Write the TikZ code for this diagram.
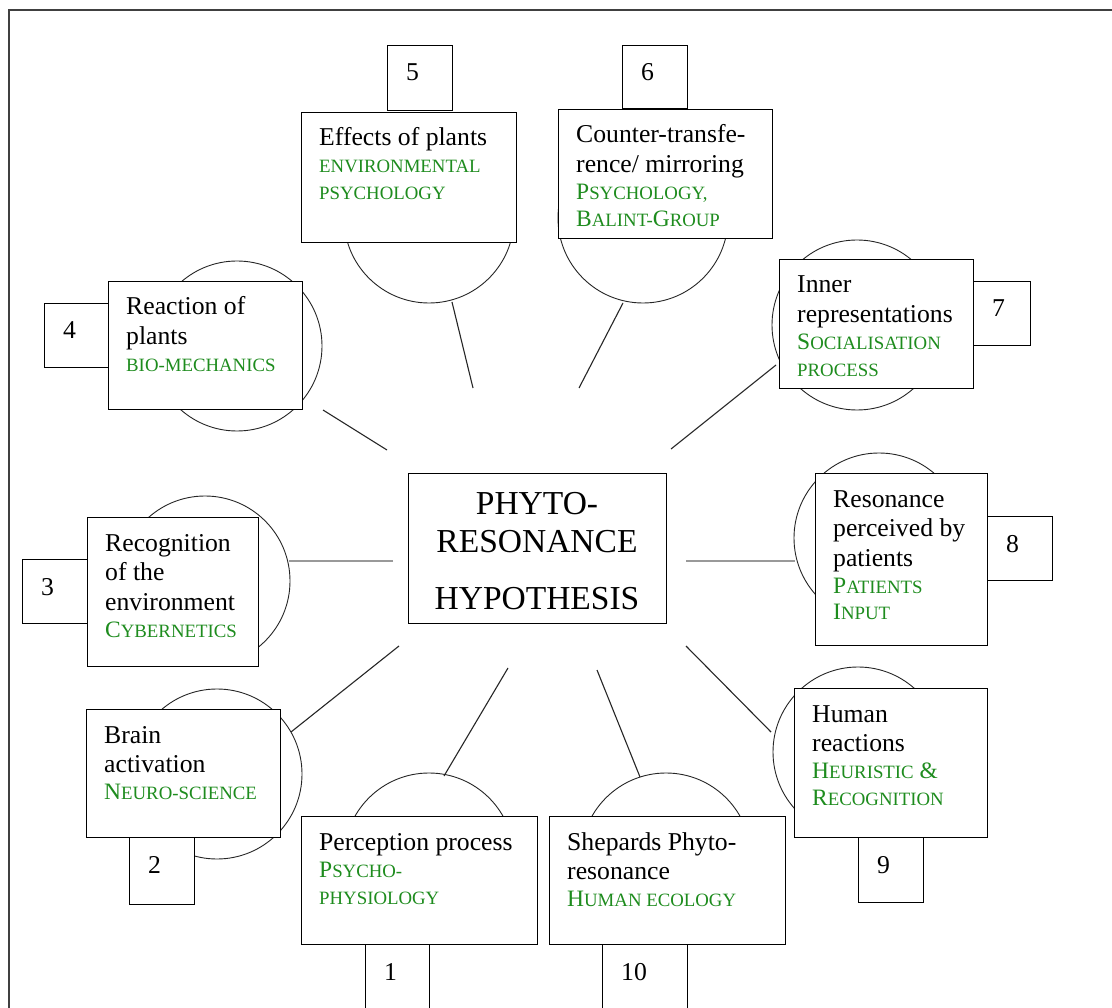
\documentclass[tikz,border=0pt]{standalone}
\usepackage{fontspec}
\setmainfont{Liberation Serif}
\usetikzlibrary{calc}
\definecolor{sgreen}{RGB}{30,140,30}
\newcommand\blk{\fontsize{25.7}{29.5}\selectfont}
\newcommand\grn{\leavevmode\color{sgreen}\fontsize{23.5}{27}\selectfont}
\newcommand\sm[1]{{\fontsize{18.8}{27}\selectfont #1}}
\newcommand\boxtxt[1]{\parbox[t]{300pt}{\raggedright #1}}
\tikzset{
 boxst/.style={draw=black, line width=1.3pt, fill=white, rectangle, inner sep=0pt, anchor=north west},
 ring/.style={draw=black!85, line width=0.9pt, circle, inner sep=0pt, minimum size=170pt},
 link/.style={draw=black!85, line width=1.1pt},
 glink/.style={draw=black!40, line width=2.6pt},
 txt/.style={anchor=base west, inner sep=0pt},
 frame/.style={draw=black!75, line width=1.6pt},
}
\newcommand\tbox[6]{%
  \node[boxst, minimum width={#4-#2}, minimum height={#5-#3}] (#1) at (#2,#3) {};
  \node[txt] (#1t) at ($(#1.north west)+(18,34)$) {\boxtxt{#6}};}
\newcommand\nbox[6]{%
  \node[boxst, minimum width={#4-#2}, minimum height={#5-#3}] (#1) at (#2,#3) {};
  \node[txt] (#1t) at ($(#1.north west)+(19,36)$) {\blk #6};}
\begin{document}
\begin{tikzpicture}[x=1pt,y=-1pt]
\fill[white] (0,0) rectangle (1112,1008);
\useasboundingbox (0,0) rectangle (1112,1008);
% frame
\coordinate (fr1) at (1112,10);
\coordinate (fr2) at (9,10);
\coordinate (fr3) at (9,1008);
\draw[frame] (fr1) -- (fr2) -- (fr3);
% circles
\node[ring] (c1) at (429,858) {};
\node[ring] (c2) at (217,774) {};
\node[ring] (c3) at (205,581) {};
\node[ring] (c4) at (237,346) {};
\node[ring] (c5) at (429,218) {};
\node[ring] (c6) at (643,218) {};
\node[ring] (c7) at (857,325) {};
\node[ring] (c8) at (879,538) {};
\node[ring] (c9) at (858,752) {};
\node[ring] (c10) at (666,858) {};
% connectors
\coordinate (l1a) at (508,668);  \coordinate (l1b) at (444,776);
\coordinate (l2a) at (399,646);  \coordinate (l2b) at (291,732);
\coordinate (l3a) at (393,561);  \coordinate (l3b) at (289,561);
\coordinate (l4a) at (387,450);  \coordinate (l4b) at (323,410);
\coordinate (l5a) at (473,388);  \coordinate (l5b) at (452,302);
\coordinate (l6a) at (579,388);  \coordinate (l6b) at (623,303);
\coordinate (l7a) at (671,449);  \coordinate (l7b) at (776,365);
\coordinate (l8a) at (686,561);  \coordinate (l8b) at (795,561);
\coordinate (l9a) at (686,646);  \coordinate (l9b) at (771,732);
\coordinate (l10a) at (597,670); \coordinate (l10b) at (640,777);
\draw[link] (l1a) -- (l1b);
\draw[link] (l2a) -- (l2b);
\draw[glink] (l3a) -- (l3b);
\draw[link] (l4a) -- (l4b);
\draw[link] (l5a) -- (l5b);
\draw[link] (l6a) -- (l6b);
\draw[link] (l7a) -- (l7b);
\draw[glink] (l8a) -- (l8b);
\draw[link] (l9a) -- (l9b);
\draw[link] (l10a) -- (l10b);
% central box
\node[boxst, minimum width=258pt, minimum height=150pt] (hyp) at (408,473) {};
\node[anchor=base, inner sep=0pt] (hypt) at (537,514) {\parbox[t]{260pt}{\centering\fontsize{33.5}{38}\selectfont PHYTO-\par RESONANCE\par\vspace{20pt}HYPOTHESIS\par}};
% number boxes
\nbox{n5}{387}{45}{452}{110}{5}
\nbox{n6}{622}{45}{687}{108}{6}
\nbox{n4}{44}{303}{108}{367}{4}
\nbox{n7}{973}{281}{1030}{345}{7}
\nbox{n3}{22}{559}{87}{623}{3}
\nbox{n8}{987}{516}{1052}{580}{8}
\nbox{n2}{129}{837}{194}{904}{2}
\nbox{n9}{858}{837}{923}{902}{9}
\nbox{n1}{365}{944}{429}{1012}{1}
\nbox{n10}{602}{944}{687}{1012}{10}
% topic boxes
\tbox{b5}{301}{112}{516}{242}{\blk Effects of plants\par\grn\sm{ENVIRONMENTAL}\par\sm{PSYCHOLOGY}\par}
\tbox{b6}{558}{109}{772}{238}{\blk Counter-transfe-\par rence/ mirroring\par\grn P\sm{SYCHOLOGY,}\par B\sm{ALINT-}G\sm{ROUP}\par}
\tbox{b4}{108}{281}{302}{409}{\blk Reaction of\par plants\par\grn\sm{BIO-MECHANICS}\par}
\tbox{b7}{779}{259}{973}{388}{\blk Inner\par representations\par\grn S\sm{OCIALISATION}\par\sm{PROCESS}\par}
\tbox{b3}{87}{517}{258}{666}{\blk Recognition\par of the\par environment\par\grn C\sm{YBERNETICS}\par}
\tbox{b8}{815}{473}{987}{645}{\blk Resonance\par perceived by\par patients\par\grn P\sm{ATIENTS}\par I\sm{NPUT}\par}
\tbox{b2}{86}{709}{280}{837}{\blk Brain\par activation\par\grn N\sm{EURO-SCIENCE}\par}
\tbox{b9}{794}{688}{987}{837}{\blk Human\par reactions\par\grn H\sm{EURISTIC} \&\par R\sm{ECOGNITION}\par}
\tbox{b1}{301}{816}{537}{944}{\blk Perception process\par\grn P\sm{SYCHO-}\par\sm{PHYSIOLOGY}\par}
\tbox{b10}{549}{816}{785}{944}{\blk Shepards Phyto-\par resonance\par\grn H\sm{UMAN ECOLOGY}\par}
\end{tikzpicture}
\end{document}
